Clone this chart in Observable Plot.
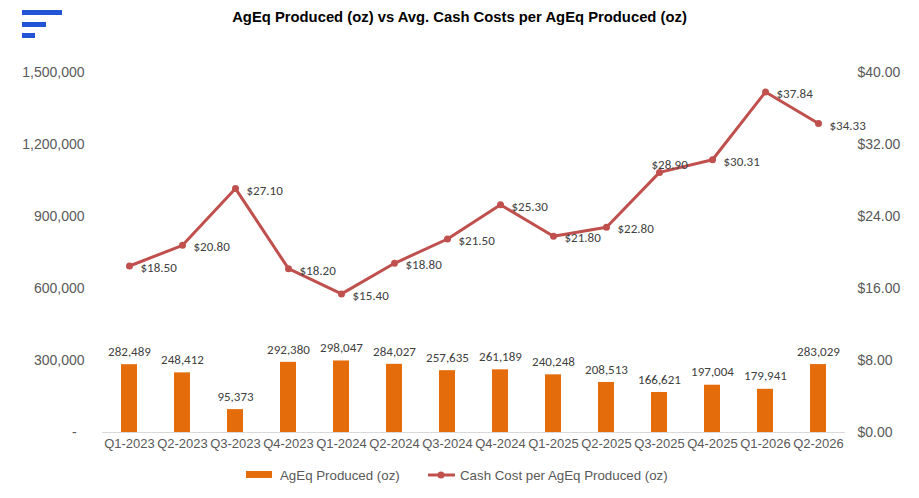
<!DOCTYPE html>
<html>
<head>
<meta charset="utf-8">
<script src="https://cdn.jsdelivr.net/npm/d3@7"></script>
<script src="https://cdn.jsdelivr.net/npm/@observablehq/plot@0.6"></script>
<style>
  html, body { margin: 0; padding: 0; background: #fff; }
  #wrap { position: relative; width: 919px; height: 498px; overflow: hidden; font-family: Arial, "Liberation Sans", sans-serif; }
  #title { position: absolute; left: 0; width: 919px; top: 9px; text-align: center; font-weight: bold; font-size: 14.8px; color: #000; }
  #logo { position: absolute; left: 0; top: 0; }
  #legend { position: absolute; top: 465px; left: 0; width: 919px; height: 20px; color: #595959; }
  #chart { position: absolute; left: 0; top: 0; }
</style>
</head>
<body>
<div id="wrap">
  <div id="chart"></div>
  <svg id="logo" width="80" height="45">
    <rect x="22" y="10" width="40" height="5" fill="#2155D6"></rect>
    <rect x="22" y="22" width="24" height="5" fill="#2155D6"></rect>
    <rect x="22" y="33" width="13" height="5" fill="#2155D6"></rect>
  </svg>
  <div id="title">AgEq Produced (oz) vs Avg. Cash Costs per AgEq Produced (oz)</div>
  <svg id="legend" width="919" height="20">
    <rect x="246" y="6" width="26" height="7" fill="#E46C0A"></rect>
    <text x="280" y="15" font-size="13.3" fill="#595959" font-family="Arial, 'Liberation Sans', sans-serif">AgEq Produced (oz)</text>
    <line x1="428" x2="455" y1="10" y2="10" stroke="#C0504D" stroke-width="3"></line>
    <circle cx="441" cy="10" r="3.5" fill="#C0504D"></circle>
    <text x="460" y="15" font-size="13.3" fill="#595959" font-family="Arial, 'Liberation Sans', sans-serif">Cash Cost per AgEq Produced (oz)</text>
  </svg>
</div>
<script>
const quarters = ["Q1-2023","Q2-2023","Q3-2023","Q4-2023","Q1-2024","Q2-2024","Q3-2024","Q4-2024","Q1-2025","Q2-2025","Q3-2025","Q4-2025","Q1-2026","Q2-2026"];
const produced = [282489, 248412, 95373, 292380, 298047, 284027, 257635, 261189, 240248, 208513, 166621, 197004, 179941, 283029];
const cashCost = [18.50, 20.80, 27.10, 18.20, 15.40, 18.80, 21.50, 25.30, 21.80, 22.80, 28.90, 30.31, 37.84, 34.33];
const leftTicks = [0, 300000, 600000, 900000, 1200000, 1500000];
const rightTicks = [0, 8, 16, 24, 32, 40];

const leftMax = 1500000, rightMax = 40;
const k = leftMax / rightMax;
const data = quarters.map((q, i) => ({q, produced: produced[i], cost: cashCost[i], scaled: cashCost[i] * k}));
const fmt = d3.format(",");
const labelFont = "Carlito, Lato, 'Open Sans', sans-serif";

const chart = Plot.plot({
  width: 919,
  height: 498,
  marginTop: 72,
  marginBottom: 66,
  marginLeft: 102,
  marginRight: 74,
  style: {fontFamily: "Arial, 'Liberation Sans', sans-serif", color: "#595959", background: "transparent"},
  x: {domain: quarters, paddingInner: 0.7, paddingOuter: 0.35, label: null},
  y: {domain: [0, leftMax], label: null},
  marks: [
    Plot.ruleY([0], {stroke: "#d9d9d9", strokeWidth: 1}),
    Plot.barY(data, {x: "q", y: "produced", fill: "#E46C0A"}),
    Plot.text(data, {x: "q", y: "produced", text: d => fmt(d.produced), dy: -13, fill: "#404040", fontSize: 13, fontFamily: labelFont}),
    Plot.line(data, {x: "q", y: "scaled", stroke: "#C0504D", strokeWidth: 3}),
    Plot.dot(data, {x: "q", y: "scaled", r: 3.5, fill: "#C0504D"}),
    Plot.text(data.filter(d => d.q !== "Q3-2025"), {x: "q", y: "scaled", text: d => "$" + d.cost.toFixed(2), textAnchor: "start", dx: 11, dy: 2, fill: "#404040", fontSize: 13, fontFamily: labelFont}),
    Plot.text(data.filter(d => d.q === "Q3-2025"), {x: "q", y: "scaled", text: d => "$" + d.cost.toFixed(2), textAnchor: "start", dx: -8, dy: -8, fill: "#404040", fontSize: 13, fontFamily: labelFont}),
    Plot.axisY(leftTicks, {anchor: "left", tickSize: 0, tickPadding: 18, fontSize: 14, tickFormat: d => d === 0 ? "-\u00a0\u00a0" : fmt(d), label: null}),
    Plot.axisY(rightTicks.map(v => v * k), {anchor: "right", tickSize: 0, tickPadding: 12, fontSize: 14, tickFormat: d => "$" + (d / k).toFixed(2), label: null}),
    Plot.axisX({tickSize: 0, tickPadding: 6, fontSize: 13, label: null})
  ]
});
document.getElementById("chart").appendChild(chart);
</script>
</body>
</html>
